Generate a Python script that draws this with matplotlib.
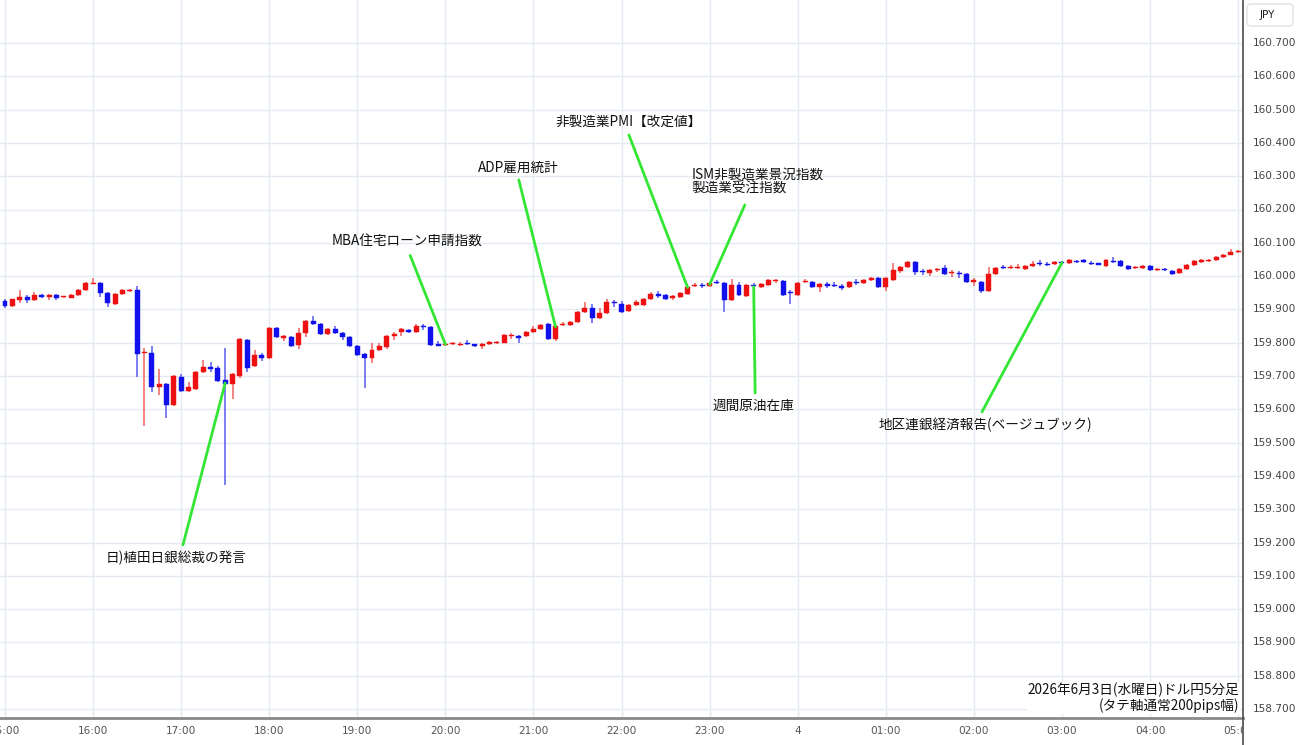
import matplotlib
matplotlib.use('Agg')
import matplotlib.pyplot as plt
from matplotlib.lines import Line2D
from matplotlib.patches import FancyBboxPatch
import matplotlib.transforms as mtransforms
import numpy as np

plt.rcParams['font.family'] = ['Noto Sans CJK JP', 'DejaVu Sans']

# ---------------- data (USD/JPY 5-minute candles, 15:00 -> 05:00) ----------------
opens = [159.925, 159.910, 159.927, 159.936, 159.928, 159.943, 159.937, 159.943, 159.937, 159.935,
         159.943, 159.958, 159.976, 159.979, 159.949, 159.916, 159.946, 159.955, 159.958, 159.769,
         159.769, 159.667, 159.676, 159.613, 159.697, 159.655, 159.661, 159.712, 159.727, 159.724,
         159.688, 159.676, 159.700, 159.808, 159.730, 159.763, 159.754, 159.844, 159.814, 159.817,
         159.793, 159.830, 159.865, 159.856, 159.826, 159.841, 159.830, 159.817, 159.790, 159.766,
         159.754, 159.778, 159.787, 159.820, 159.832, 159.838, 159.832, 159.850, 159.847, 159.794,
         159.793, 159.795, 159.793, 159.797, 159.793, 159.790, 159.796, 159.799, 159.800, 159.819,
         159.820, 159.820, 159.832, 159.840, 159.856, 159.811, 159.852, 159.853, 159.862, 159.892,
         159.904, 159.874, 159.889, 159.922, 159.916, 159.895, 159.913, 159.913, 159.931, 159.946,
         159.943, 159.934, 159.937, 159.946, 159.969, 159.971, 159.970, 159.980, 159.979, 159.928,
         159.973, 159.940, 159.971, 159.967, 159.973, 159.984, 159.985, 159.951, 159.943, 159.981,
         159.982, 159.967, 159.976, 159.972, 159.970, 159.967, 159.982, 159.979, 159.989, 159.994,
         159.967, 159.988, 160.015, 160.027, 160.042, 160.013, 160.009, 160.017, 160.024, 160.008,
         160.008, 160.006, 159.983, 159.982, 159.955, 160.006, 160.025, 160.023, 160.023, 160.021,
         160.030, 160.037, 160.034, 160.036, 160.042, 160.039, 160.044, 160.048, 160.037, 160.036,
         160.030, 160.044, 160.045, 160.030, 160.023, 160.024, 160.030, 160.017, 160.019, 160.015,
         160.009, 160.021, 160.033, 160.043, 160.044, 160.048, 160.057, 160.064, 160.072]
closes = [159.910, 159.930, 159.937, 159.928, 159.943, 159.937, 159.943, 159.935, 159.939, 159.943,
          159.958, 159.979, 159.979, 159.949, 159.919, 159.946, 159.958, 159.958, 159.767, 159.772,
          159.667, 159.676, 159.613, 159.700, 159.655, 159.667, 159.712, 159.727, 159.720, 159.685,
          159.676, 159.706, 159.811, 159.724, 159.763, 159.754, 159.844, 159.817, 159.820, 159.790,
          159.830, 159.865, 159.856, 159.826, 159.841, 159.830, 159.817, 159.790, 159.763, 159.754,
          159.778, 159.790, 159.820, 159.826, 159.841, 159.832, 159.850, 159.847, 159.794, 159.791,
          159.795, 159.797, 159.795, 159.795, 159.791, 159.797, 159.802, 159.801, 159.823, 159.821,
          159.814, 159.832, 159.840, 159.853, 159.811, 159.850, 159.854, 159.862, 159.892, 159.904,
          159.874, 159.889, 159.922, 159.918, 159.892, 159.913, 159.922, 159.931, 159.946, 159.940,
          159.931, 159.940, 159.949, 159.967, 159.971, 159.969, 159.979, 159.978, 159.928, 159.973,
          159.943, 159.973, 159.969, 159.976, 159.988, 159.986, 159.943, 159.949, 159.979, 159.983,
          159.967, 159.976, 159.970, 159.970, 159.964, 159.982, 159.978, 159.988, 159.991, 159.967,
          159.994, 160.018, 160.027, 160.042, 160.012, 160.011, 160.018, 160.019, 160.006, 160.010,
          160.006, 159.982, 159.985, 159.955, 160.006, 160.024, 160.023, 160.025, 160.025, 160.030,
          160.036, 160.035, 160.032, 160.042, 160.039, 160.048, 160.042, 160.042, 160.035, 160.034,
          160.048, 160.042, 160.030, 160.021, 160.025, 160.030, 160.018, 160.019, 160.017, 160.006,
          160.021, 160.033, 160.045, 160.045, 160.046, 160.058, 160.064, 160.073, 160.074]
highs = [159.930, 159.932, 159.958, 159.942, 159.952, 159.946, 159.946, 159.946, 159.941, 159.945,
         159.960, 159.983, 159.994, 159.982, 159.952, 159.948, 159.960, 159.960, 159.970, 159.784,
         159.790, 159.720, 159.680, 159.703, 159.706, 159.682, 159.715, 159.748, 159.742, 159.730,
         159.784, 159.709, 159.814, 159.811, 159.778, 159.768, 159.847, 159.847, 159.823, 159.820,
         159.844, 159.868, 159.880, 159.859, 159.844, 159.850, 159.833, 159.820, 159.793, 159.769,
         159.799, 159.799, 159.823, 159.832, 159.844, 159.841, 159.856, 159.856, 159.850, 159.805,
         159.800, 159.803, 159.803, 159.808, 159.797, 159.799, 159.804, 159.805, 159.826, 159.830,
         159.822, 159.835, 159.850, 159.856, 159.858, 159.853, 159.862, 159.865, 159.895, 159.922,
         159.917, 159.904, 159.931, 159.928, 159.925, 159.916, 159.928, 159.934, 159.952, 159.955,
         159.946, 159.943, 159.952, 159.970, 159.979, 159.979, 159.982, 159.988, 159.982, 159.991,
         159.982, 159.976, 159.979, 159.979, 159.991, 159.991, 159.988, 159.958, 159.982, 159.991,
         159.985, 159.979, 159.982, 159.982, 159.976, 159.985, 159.991, 159.991, 159.997, 159.997,
         159.997, 160.040, 160.030, 160.045, 160.045, 160.021, 160.021, 160.024, 160.033, 160.018,
         160.015, 160.009, 159.994, 159.985, 160.027, 160.027, 160.033, 160.033, 160.036, 160.033,
         160.045, 160.048, 160.042, 160.045, 160.045, 160.051, 160.048, 160.051, 160.045, 160.040,
         160.051, 160.057, 160.048, 160.033, 160.030, 160.033, 160.033, 160.024, 160.024, 160.018,
         160.024, 160.036, 160.048, 160.051, 160.051, 160.060, 160.066, 160.080, 160.078]
lows = [159.904, 159.908, 159.920, 159.920, 159.926, 159.934, 159.928, 159.928, 159.935, 159.933,
        159.941, 159.956, 159.975, 159.937, 159.907, 159.914, 159.944, 159.953, 159.697, 159.550,
        159.652, 159.643, 159.574, 159.610, 159.652, 159.652, 159.658, 159.710, 159.712, 159.682,
        159.373, 159.631, 159.694, 159.712, 159.727, 159.745, 159.751, 159.814, 159.805, 159.787,
        159.781, 159.817, 159.853, 159.823, 159.823, 159.827, 159.808, 159.787, 159.760, 159.664,
        159.739, 159.775, 159.781, 159.808, 159.820, 159.829, 159.829, 159.838, 159.791, 159.789,
        159.791, 159.793, 159.791, 159.793, 159.787, 159.781, 159.794, 159.797, 159.798, 159.811,
        159.799, 159.818, 159.830, 159.838, 159.808, 159.805, 159.850, 159.851, 159.859, 159.889,
        159.859, 159.871, 159.886, 159.907, 159.889, 159.892, 159.910, 159.910, 159.928, 159.934,
        159.928, 159.928, 159.934, 159.943, 159.967, 159.964, 159.967, 159.976, 159.892, 159.925,
        159.940, 159.937, 159.964, 159.964, 159.970, 159.979, 159.940, 159.916, 159.940, 159.979,
        159.964, 159.952, 159.964, 159.967, 159.958, 159.964, 159.973, 159.976, 159.985, 159.964,
        159.955, 159.985, 160.009, 160.024, 160.003, 160.003, 160.000, 160.012, 160.003, 159.997,
        159.994, 159.979, 159.970, 159.950, 159.952, 160.003, 160.021, 160.021, 160.021, 160.018,
        160.028, 160.030, 160.030, 160.034, 160.036, 160.036, 160.039, 160.039, 160.033, 160.032,
        160.027, 160.040, 160.027, 160.018, 160.020, 160.021, 160.015, 160.014, 160.014, 160.003,
        160.006, 160.018, 160.030, 160.040, 160.041, 160.046, 160.055, 160.062, 160.068]

hour_labels = ['15:00', '16:00', '17:00', '18:00', '19:00', '20:00', '21:00', '22:00',
               '23:00', '4', '01:00', '02:00', '03:00', '04:00', '05:00']
price_ticks = [158.7, 158.8, 158.9, 159.0, 159.1, 159.2, 159.3, 159.4, 159.5, 159.6,
               159.7, 159.8, 159.9, 160.0, 160.1, 160.2, 160.3, 160.4, 160.5, 160.6, 160.7]

# event annotations: (text, candle index, price at candle)
event_texts = ['日)植田日銀総裁の発言', 'MBA住宅ローン申請指数', 'ADP雇用統計', '非製造業PMI【改定値】',
               'ISM非製造業景況指数\n製造業受注指数', '週間原油在庫', '地区連銀経済報告(ベージュブック)']
event_candles = [30, 60, 75, 93, 96, 102, 144]
event_prices = [159.679, 159.795, 159.848, 159.966, 159.975, 159.968, 160.040]
caption = '2026年6月3日(水曜日)ドル円5分足\n(タテ軸通常200pips幅)'

# layout of the annotation labels: (text x, text y, line start x, line start y, ha)
event_layout = [
    (23.3, 159.153, 24.25, 159.193, 'center'),
    (54.8, 160.102, 55.2, 160.062, 'center'),
    (69.9, 160.325, 70.0, 160.289, 'center'),
    (85.0, 160.463, 85.0, 160.424, 'center'),
    (93.5, 160.283, 100.8, 160.214, 'left'),
    (101.9, 159.610, 102.2, 159.649, 'center'),
    (133.5, 159.553, 133.1, 159.592, 'center'),
]

# ---------------- figure ----------------
W, H = 1300, 745
fig = plt.figure(figsize=(W / 100, H / 100), dpi=100)
plot_right = 1243
plot_bottom = 27
ax = fig.add_axes([0, plot_bottom / H, plot_right / W, (H - plot_bottom) / H])

px_per_candle = 7.34
x0_px = 5.0
xmin = -x0_px / px_per_candle
xmax = (plot_right - x0_px) / px_per_candle
ppu = 333.0
ymax = 160.7 + 43 / ppu
ymin = ymax - (H - plot_bottom) / ppu
ax.set_xlim(xmin, xmax)
ax.set_ylim(ymin, ymax)

n = len(opens)
idx = np.arange(n)
o = np.array(opens); c = np.array(closes); h = np.array(highs); l = np.array(lows)
up = c >= o
red = '#ee1111'
blue = '#1111ee'
cols = np.where(up, red, blue)
wick_cols = np.where(up, '#f06060', '#5a5af0')

ax.vlines(idx, l, h, colors=wick_cols, linewidth=1.1, zorder=3)
body_bottom = np.minimum(o, c)
body_h = np.maximum(np.abs(c - o), 0.004)
ax.bar(idx, body_h, bottom=body_bottom, width=0.68, color=cols, edgecolor=cols,
       linewidth=0.3, zorder=4)

# grid
hour_pos = np.arange(0, n, 12)
ax.set_xticks(hour_pos)
ax.set_yticks(price_ticks)
ax.tick_params(length=0, labelbottom=False, labelleft=False)
ax.grid(True, color='#e4eaf1', linewidth=1.0, zorder=0)
ax.set_axisbelow(True)
for s in ['top', 'left', 'right']:
    ax.spines[s].set_visible(False)
ax.spines['bottom'].set_color('#8a8a8a')
ax.spines['bottom'].set_linewidth(2)

# right price labels
trans = mtransforms.blended_transform_factory(ax.transAxes, ax.transData)
for p in price_ticks:
    ax.text(1253 / plot_right, p, f'{p:.3f}', transform=trans, ha='left', va='center',
            fontsize=7.6, color='#444444', family='DejaVu Sans', clip_on=False)

# overlay axes in pixel coordinates
box_ax = fig.add_axes([0, 0, 1, 1], facecolor='none')
box_ax.set_xlim(0, W); box_ax.set_ylim(H, 0); box_ax.axis('off')
box_ax.add_patch(FancyBboxPatch((1247, 4), 46, 22, boxstyle='round,pad=0,rounding_size=4',
                                facecolor='white', edgecolor='#e2e2e2', linewidth=1))
box_ax.text(1267, 15.5, 'JPY', ha='center', va='center', fontsize=7.6, color='#222222',
            family='DejaVu Sans')
box_ax.add_line(Line2D([plot_right, plot_right], [0, H], color='#4a4a4a', linewidth=1.2))

# x labels axis (clipped at right edge)
xl_ax = fig.add_axes([0, 0, plot_right / W, plot_bottom / H], facecolor='none')
xl_ax.set_xlim(xmin, xmax); xl_ax.set_ylim(0, 1); xl_ax.axis('off')
for pos, lab in zip(hour_pos, hour_labels):
    xl_ax.text(pos, 0.5, lab, ha='center', va='center', fontsize=7.6, color='#555555',
               family='DejaVu Sans', clip_on=True)

# annotations
green = '#33e633'
for text, ci, cp, (tx, tp, lx, lp, ha) in zip(event_texts, event_candles, event_prices, event_layout):
    ax.plot([lx, ci], [lp, cp], color=green, linewidth=2, zorder=5, solid_capstyle='round')
    ax.text(tx, tp, text, ha=ha, va='center', fontsize=9.8, color='#111111', zorder=6,
            linespacing=1.0)

# caption bottom right
box_ax.text(1239, 698, caption, ha='right', va='center', multialignment='right',
            fontsize=9.8, color='#111111', linespacing=1.05,
            bbox=dict(facecolor='white', edgecolor='none', pad=0.5))

fig.savefig('out.png', dpi=100)
